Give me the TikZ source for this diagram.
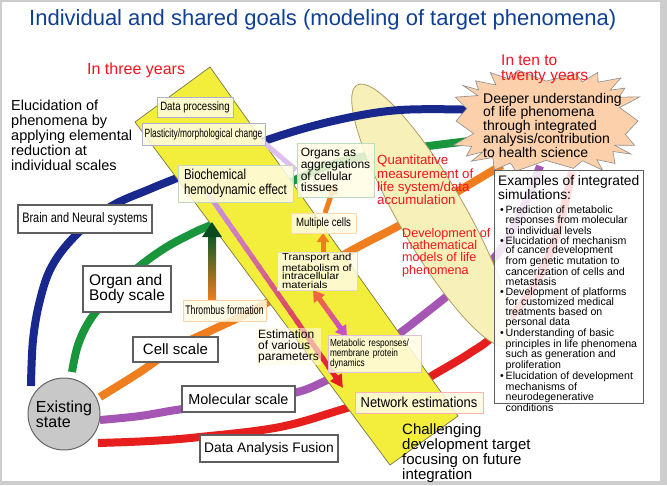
\documentclass[tikz,border=0pt]{standalone}
\usepackage{fontspec}
\setmainfont{Liberation Sans}
\newfontfamily\cA[FakeStretch=0.7]{Liberation Sans}
\newfontfamily\cB[FakeStretch=0.8]{Liberation Sans}
\newfontfamily\cC[FakeStretch=0.9]{Liberation Sans}
\newfontfamily\wA[FakeStretch=1.12]{Liberation Sans}
\usetikzlibrary{calc,arrows.meta,shadows}
\newcommand\myfs[2]{\fontsize{#1}{#2}\selectfont}
\newcommand\mybul{\makebox[5.5pt][l]{\textbullet}}
\newcommand\myind{\hspace*{5.5pt}}
\definecolor{titleblue}{RGB}{16,64,150}
\definecolor{myred}{RGB}{245,20,30}
\definecolor{arcblue}{RGB}{25,40,140}
\definecolor{arcgreen}{RGB}{25,150,60}
\definecolor{arcorange}{RGB}{240,125,30}
\definecolor{arcpurple}{RGB}{165,85,180}
\definecolor{arcred}{RGB}{230,30,30}
\definecolor{bandyellow}{RGB}{243,238,60}
\definecolor{banddraw}{RGB}{120,120,70}
\definecolor{ellfill}{RGB}{247,241,185}
\definecolor{elldraw}{RGB}{170,160,100}
\definecolor{peach}{RGB}{251,208,170}
\definecolor{cream}{RGB}{255,252,228}
\definecolor{lav}{RGB}{200,150,230}
\definecolor{coral}{RGB}{240,100,70}
\definecolor{magen}{RGB}{200,80,200}
\definecolor{framegray}{RGB}{205,205,205}
\definecolor{boxgray}{RGB}{95,95,95}
\definecolor{stategray}{RGB}{200,200,200}
\tikzset{
  txt/.style={inner sep=0pt, anchor=north west, align=left},
  arcline/.style={line width=8pt},
  sbox/.style={draw=boxgray, line width=1.2pt, fill=white, inner sep=1pt, align=left,
    drop shadow={shadow xshift=1.3pt, shadow yshift=-1.3pt, fill=black!30, opacity=1}},
  bbox/.style={fill=cream, fill opacity=0.85, text opacity=1, line width=0.9pt, inner sep=1pt, align=left},
}
\begin{document}
\begin{tikzpicture}[x=1pt,y=-1pt]
\useasboundingbox (0,0) rectangle (667,485);
\fill[framegray] (0,0) rectangle (667,485);
\fill[white] (2,2) rectangle (660,481);

% ---- arcs (under ellipse)
\draw[arcline, arcgreen] plot[smooth, tension=0.6] coordinates {(72,372) (78,345) (90,320) (110,295) (135,270) (165,248) (195,232) (213,224) (250,205) (295,180) (340,162) (400,150) (478,140)};
\draw[arcline, arcorange] plot[smooth, tension=0.6] coordinates {(100,397) (140,372) (175,348) (210,331) (240,317) (270,301) (300,283) (347,253) (402,224) (450,196) (502,165)};
\draw[arcline, arcpurple] plot[smooth, tension=0.6] coordinates {(100,420) (140,416) (183,409) (240,403) (294,393) (323,382) (360,362) (404,330) (451,293) (494,258) (520,215) (540,166)};
\draw[arcline, arcred] plot[smooth, tension=0.6] coordinates {(98,443) (150,441) (200,437) (280,427) (347,408) (400,393) (440,371) (470,353) (494,335) (530,292) (555,240) (572,172)};

% ---- ellipse
\draw[fill=ellfill, draw=elldraw, line width=0.8pt, rotate around={-60:(432,215)}] (432,215) ellipse [x radius=150, y radius=33];

% ---- blue arc (over ellipse)
\draw[arcline, arcblue] plot[smooth, tension=0.6] coordinates {(31,386) (33,340) (40,300) (52,266) (75,236) (110,207) (150,189) (177,178) (220,160) (267,140) (333,121) (400,110) (482,110)};

% ---- starburst (boxy superellipse with spikes)
\draw[fill=peach, draw=black!45, line width=0.6pt] plot[samples at={0,...,43}, variable=\k]
  ({546+(mod(\k,2)==0 ? 92 : 76)*(1+0.05*sin(\k*97))*pow(abs(cos(\k*360/44)),0.6)*(cos(\k*360/44)<0 ? -1 : 1)},
   {121+(mod(\k,2)==0 ? 50 : 41)*(1+0.05*sin(\k*61))*pow(abs(sin(\k*360/44)),0.6)*(sin(\k*360/44)<0 ? -1 : 1)}) -- cycle;

% ---- yellow band
\draw[fill=bandyellow, draw=banddraw, line width=0.7pt] (135,122) -- (210,67) -- (458,416) -- (390,465) -- cycle;

% ---- faint lavender line
\draw[lav!60!white, line width=5pt] (262,141) -- (296,170);

% ---- estimation arrow (lavender -> red)
\coordinate (pS) at (207,192);
\coordinate (pE) at (335,376);
\coordinate (pT) at (343,388);
\foreach \i in {0,...,19}{
  \pgfmathsetmacro\ta{\i/20}
  \pgfmathsetmacro\tb{(\i+1.3)/20}
  \pgfmathtruncatemacro\pc{\i*5}
  \draw[line width=5pt, draw=arcred!\pc!lav] ($(pS)!\ta!(pE)$) -- ($(pS)!\tb!(pE)$);
}
\draw[arcred, line width=5pt, -{Triangle[length=13pt,width=13pt]}] (pE) -- (pT);

% ---- thrombus -> biochemical arrow
\coordinate (thA) at (212,300);
\coordinate (thB) at (212,222);
\shade[top color=arcgreen!60!black, bottom color=arcorange] (208,300) rectangle (216,236);
\fill[arcgreen!50!black] (202,237) -- (222,237) -- (thB) -- cycle;

% ---- double arrow transport <-> metabolic
\coordinate (dA) at (313,290);
\coordinate (dB) at (347,337);
\foreach \i in {0,...,9}{
  \pgfmathsetmacro\ta{0.2+\i*0.06}
  \pgfmathsetmacro\tb{0.2+(\i+1.3)*0.06}
  \pgfmathtruncatemacro\pc{\i*10}
  \draw[line width=5pt, draw=magen!\pc!coral] ($(dA)!\ta!(dB)$) -- ($(dA)!\tb!(dB)$);
}
\draw[coral, line width=5pt, -{Triangle[length=11pt,width=13pt]}] ($(dA)!0.25!(dB)$) -- (dA);
\draw[magen, line width=5pt, -{Triangle[length=11pt,width=13pt]}] ($(dA)!0.75!(dB)$) -- (dB);

% ---- orange small arrows
\coordinate (oA) at (323,252);
\coordinate (oB) at (323,233);
\draw[arcorange, line width=5pt, -{Triangle[length=9pt,width=12pt]}] (oA) -- (oB);
\coordinate (oC) at (325,213);
\coordinate (oD) at (335,184);
\draw[arcorange, line width=5pt, -{Triangle[length=9pt,width=12pt]}] (oC) -- (oD);

% ---- boxes in the band
\node[bbox, draw=blue!25!gray!50, minimum width=76pt, minimum height=20pt, font=\cB\myfs{12}{12}] (dp) at (195,107) {Data processing};
\node[bbox, draw=blue!25!gray!50, minimum width=123pt, minimum height=22pt, font=\cA\myfs{12}{12}] (pl) at (203.5,134) {Plasticity/morphological change};
\node[bbox, draw=green!20!gray!40, minimum width=115pt, minimum height=37pt, font=\cB\myfs{14.4}{15}] (bio) at (235.5,183.5) {Biochemical\\hemodynamic effect};
\node[bbox, draw=green!30!gray!40, minimum width=77pt, minimum height=54pt, font=\myfs{12}{11}] (org) at (335.5,170) {Organs as\\aggregations\\of cellular\\tissues};
\node[bbox, draw=orange!30, minimum width=65pt, minimum height=20pt, font=\cB\myfs{12}{12}] (mc) at (323.5,223) {Multiple cells};
\node[bbox, draw=orange!20!gray!30, minimum width=80pt, minimum height=38pt, font=\wA\myfs{10}{8.5}] (tr) at (317,271) {Transport and\\metabolism of\\intracellular\\materials};
\node[bbox, draw=orange!35, minimum width=83pt, minimum height=21pt, font=\cA\myfs{12.5}{12}] (thr) at (224.5,310.5) {Thrombus formation};
\node[bbox, draw=violet!25, minimum width=93pt, minimum height=37pt, text width=89pt, font=\cB\myfs{10.3}{10}] (met) at (374.5,353.5) {Metabolic responses/\\membrane protein\\dynamics};
\node[bbox, draw=red!30, minimum width=128pt, minimum height=21pt, font=\cC\myfs{14.4}{14}] (net) at (419,402.5) {Network estimations};
\node[txt, fill=cream, fill opacity=0.6, text opacity=1, inner sep=2pt, font=\myfs{12}{11}] (est) at (256,328) {Estimation\\of various\\parameters};

% ---- scale boxes
\node[sbox, minimum width=134pt, minimum height=28pt, font=\cB\myfs{13.7}{14}] (brain) at (85,219) {Brain and Neural systems};
\node[sbox, minimum width=88pt, minimum height=46pt, font=\myfs{15.5}{15}] (organ) at (127,289) {Organ and\\Body scale};
\node[sbox, minimum width=85pt, minimum height=25pt, font=\myfs{15}{15}] (cell) at (175.5,349.5) {Cell scale};
\node[sbox, minimum width=113pt, minimum height=26pt, font=\myfs{14.4}{15}] (mol) at (238.5,399) {Molecular scale};
\node[sbox, minimum width=138pt, minimum height=27pt, font=\myfs{13.8}{15}] (daf) at (269,448.5) {Data Analysis Fusion};

% ---- existing state
\node[circle, draw=black!60, line width=1pt, fill=stategray, minimum size=72pt, inner sep=0pt, align=left, font=\myfs{16}{15}] (exist) at (64,414) {Existing\\state};

% ---- examples box
\node[draw=boxgray, line width=1pt, fill=white, fill opacity=0.85, minimum width=149pt, minimum height=233pt, inner sep=0pt] (ex) at (568.5,286.5) {};
\node[txt, font=\myfs{13.8}{12.5}] (exh) at (498,175) {Examples of integrated\\simulations:};
\node[txt, font=\myfs{10.6}{9.7}] (exl) at (500,206) {%
\mybul Prediction of metabolic\\
\myind responses from molecular\\
\myind to individual levels\\
\mybul Elucidation of mechanism\\
\myind of cancer development\\
\myind from genetic mutation to\\
\myind cancerization of cells and\\
\myind metastasis\\
\mybul Development of platforms\\
\myind for customized medical\\
\myind treatments based on\\
\myind personal data\\
\mybul Understanding of basic\\
\myind principles in life phenomena\\
\myind such as generation and\\
\myind proliferation\\
\mybul Elucidation of development\\
\myind mechanisms of\\
\myind neurodegenerative\\
\myind conditions};

% ---- free texts
\node[txt, font=\myfs{22}{24}, text=titleblue] (title) at (29,9) {Individual and shared goals (modeling of target phenomena)};
\node[txt, font=\myfs{16}{14}, text=myred] (three) at (87,63) {In three years};
\node[txt, font=\myfs{15.5}{14.5}, text=myred] (ten) at (501,55) {In ten to\\twenty years};
\node[txt, font=\myfs{14.5}{15}] (eluc) at (11,100) {Elucidation of\\phenomena by\\applying elemental\\reduction at\\individual scales};
\node[txt, font=\myfs{14}{13.5}] (deep) at (483,93) {Deeper understanding\\of life phenomena\\through integrated\\analysis/contribution\\to health science};
\node[txt, font=\myfs{13.3}{13.3}, text=myred] (quant) at (377,155) {Quantitative\\measurement of\\life system/data\\accumulation};
\node[txt, font=\myfs{12.6}{12.3}, text=myred] (devm) at (402,228) {Development of\\mathematical\\models of life\\phenomena};
\node[txt, font=\myfs{15}{15}] (chal) at (402,423) {Challenging\\development target\\focusing on future\\integration};
\end{tikzpicture}
\end{document}
